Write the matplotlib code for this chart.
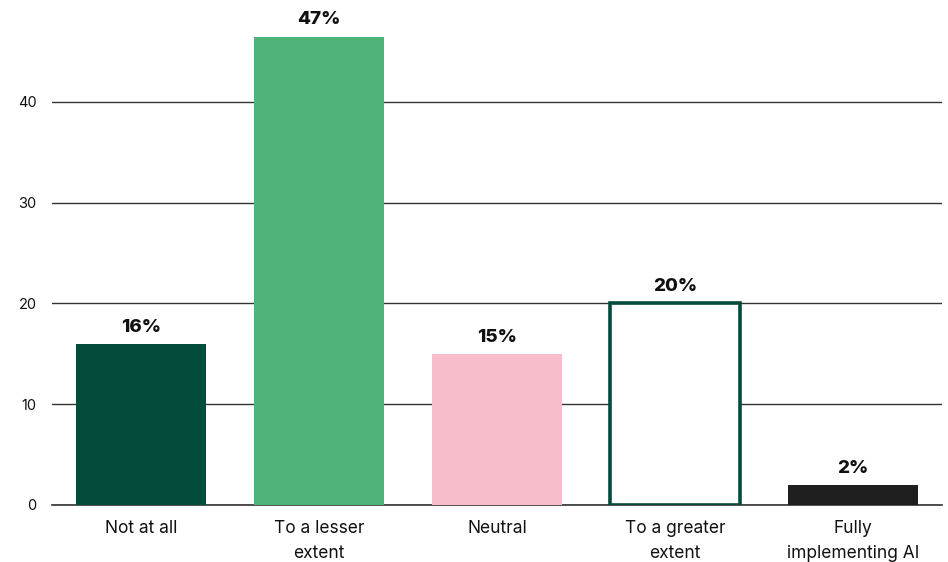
import matplotlib.pyplot as plt

categories = ["Not at all", "To a lesser\nextent", "Neutral", "To a greater\nextent", "Fully\nimplementing AI"]
values = [16, 46.5, 15, 20, 2]
value_labels = ["16%", "47%", "15%", "20%", "2%"]
yticks = [0, 10, 20, 30, 40]

face_colors = ["#034c3c", "#50b478", "#f7bdca", "#ffffff", "#1e1e1e"]
edge_colors = ["#034c3c", "#50b478", "#f7bdca", "#034c3c", "#1e1e1e"]
line_widths = [0, 0, 0, 2.6, 0]

plt.rcParams["font.family"] = ["Inter", "DejaVu Sans"]

fig = plt.figure(figsize=(9.48, 5.62), dpi=100)
ax = fig.add_axes([52 / 948, (562 - 505) / 562, 890 / 948, 503.75 / 562])

x = list(range(len(categories)))
ax.bar(x, values, width=0.725, color=face_colors, edgecolor=edge_colors,
       linewidth=line_widths, zorder=3)

for xi, v, lab in zip(x, values, value_labels):
    ax.text(xi, v + 0.8, lab, ha="center", va="bottom", fontsize=13.5,
            fontweight="heavy", color="#111111")

ax.set_xlim(-0.5, len(categories) - 0.5)
ax.set_ylim(0, 50)
ax.set_yticks(yticks)
ax.set_xticks(x)
ax.set_xticklabels(categories, fontsize=12.5, color="#111111", linespacing=1.6)
ax.tick_params(axis="y", length=0, pad=11, labelsize=10.5, labelcolor="#111111")
ax.tick_params(axis="x", length=0, pad=11)
ax.grid(axis="y", color="#333333", linewidth=1.0, zorder=0)
ax.axhline(0, color="#333333", linewidth=1.2, zorder=2, clip_on=False)
for s in ax.spines.values():
    s.set_visible(False)

fig.savefig("out.png", dpi=100)
